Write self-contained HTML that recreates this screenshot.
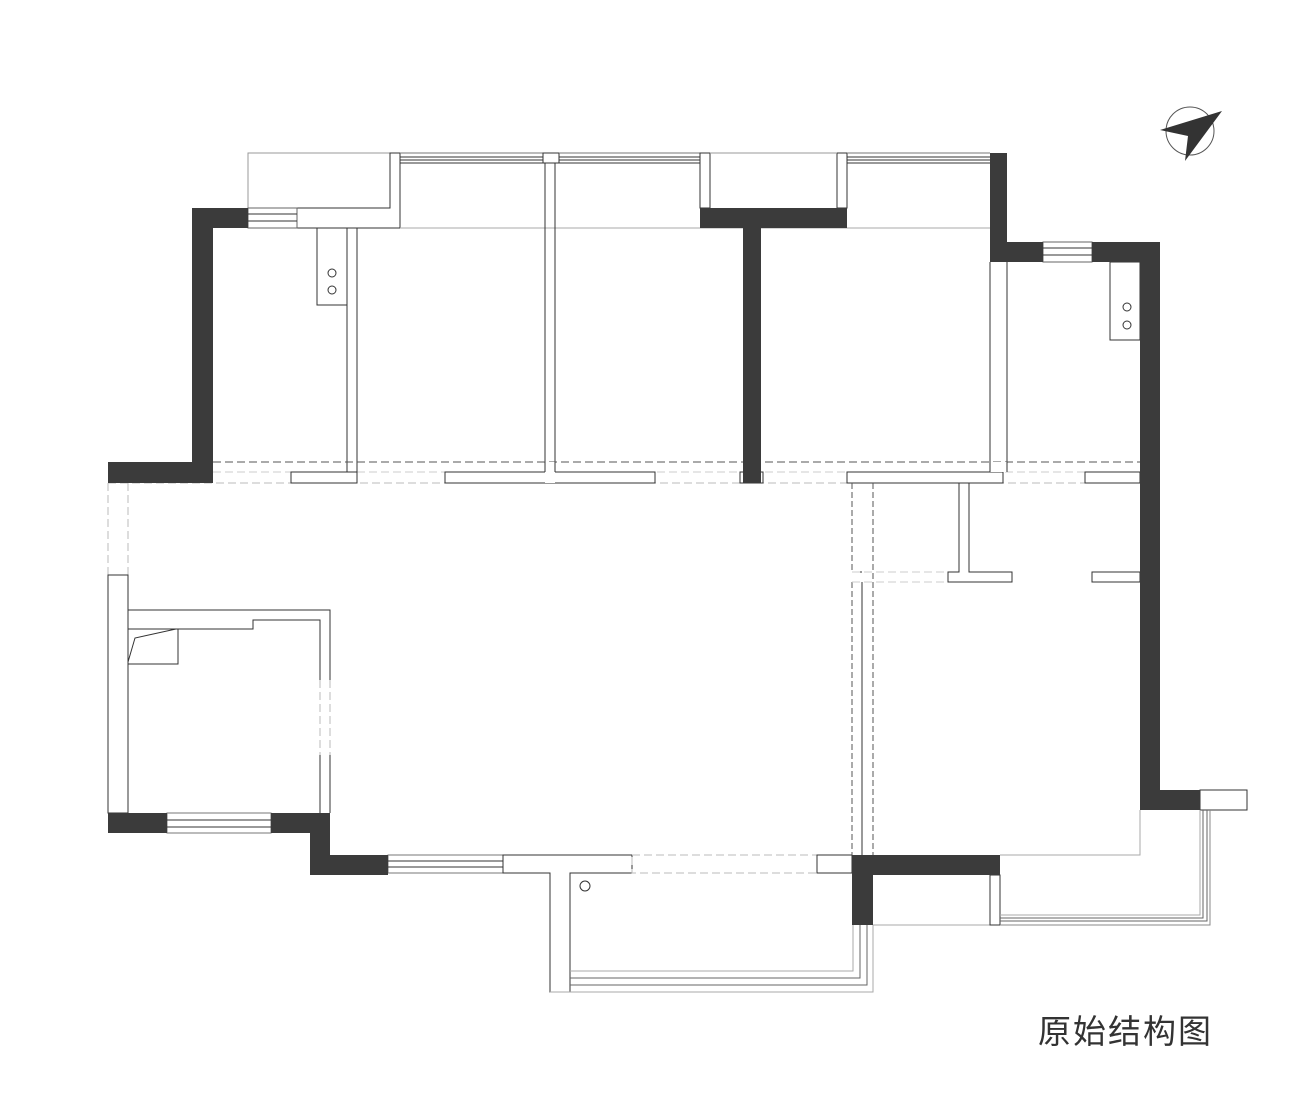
<!DOCTYPE html>
<html><head><meta charset="utf-8"><style>
html,body{margin:0;padding:0;background:#fff;}
svg{display:block;}
</style></head><body>
<svg width="1300" height="1110" viewBox="0 0 1300 1110" xmlns="http://www.w3.org/2000/svg">
<rect width="1300" height="1110" fill="#fff"/>
<g fill="none" stroke="#333" stroke-width="1">
<!-- top-left box -->
<rect x="248" y="153" width="142" height="55" stroke="#999"/>
<path d="M390 153 H400 V228 H297 V208 H390 Z" fill="#fff"/>
<!-- window TL -->
<rect x="248" y="208" width="49" height="20" stroke="#666"/>
<line x1="248" y1="214" x2="297" y2="214"/><line x1="248" y1="221" x2="297" y2="221"/>
<!-- top window 400-543 -->
<line x1="400" y1="153" x2="543" y2="153" stroke="#777"/>
<line x1="400" y1="157" x2="543" y2="157"/>
<line x1="400" y1="160" x2="543" y2="160"/>
<line x1="400" y1="163" x2="543" y2="163"/>
<line x1="400" y1="228" x2="990" y2="228" stroke="#aaa"/>
<!-- partition 543 -->
<rect x="543" y="153" width="16" height="10"/>
<path d="M545 163 V472 M555 163 V472"/>
<!-- window 559-700 -->
<line x1="559" y1="153" x2="700" y2="153" stroke="#777"/>
<line x1="559" y1="157" x2="700" y2="157"/>
<line x1="559" y1="160" x2="700" y2="160"/>
<line x1="559" y1="163" x2="700" y2="163"/>
<rect x="700" y="153" width="10" height="55"/>
<rect x="837" y="153" width="10" height="55"/>
<line x1="710" y1="153" x2="837" y2="153" stroke="#999"/>
<!-- window 847-990 -->
<line x1="847" y1="153" x2="990" y2="153" stroke="#777"/>
<line x1="847" y1="157" x2="990" y2="157"/>
<line x1="847" y1="160" x2="990" y2="160"/>
<line x1="847" y1="163" x2="990" y2="163"/>
<!-- shaft left -->
<rect x="317" y="228" width="30" height="77"/>
<circle cx="332" cy="273" r="4"/><circle cx="332" cy="290" r="4"/>
<!-- partition 347-357 -->
<path d="M347 228 V472 M357 228 V472"/>
<!-- partition 990-1007 -->
<path d="M990 262 V472 M1007 262 V472"/>
<!-- shaft right -->
<rect x="1110" y="262" width="30" height="78"/>
<circle cx="1127" cy="307" r="4"/><circle cx="1127" cy="325" r="4"/>
<!-- window right -->
<rect x="1043" y="242" width="49" height="20" stroke="#666"/>
<line x1="1043" y1="248" x2="1092" y2="248"/><line x1="1043" y1="255" x2="1092" y2="255"/>
<!-- dashed lines -->
<line x1="213" y1="462" x2="1140" y2="462" stroke="#555" stroke-dasharray="8,4"/>
<line x1="213" y1="472" x2="1140" y2="472" stroke="#ccc" stroke-dasharray="8,4"/>
<line x1="108" y1="483" x2="1140" y2="483" stroke="#bbb" stroke-dasharray="8,4"/>
<!-- stubs -->
<rect x="291" y="472" width="66" height="11" fill="#fff"/>
<rect x="445" y="472" width="210" height="11" fill="#fff"/>
<rect x="545" y="462" width="10" height="21" fill="#fff" stroke="none"/>
<path d="M545 462 V472 M555 462 V472"/>
<rect x="740" y="472" width="23" height="11" fill="#fff"/>
<rect x="847" y="472" width="156" height="11" fill="#fff"/>
<rect x="990" y="462" width="17" height="10" fill="#fff" stroke="none"/>
<path d="M990 462 V472 M1007 462 V472"/>
<rect x="1085" y="472" width="55" height="11" fill="#fff"/>
<!-- left side -->
<path d="M108 483 V575 M128 483 V575" stroke="#bbb" stroke-dasharray="8,4"/>
<rect x="108" y="575" width="20" height="238" fill="#fff"/>
<path d="M128 610 H330 V680 M330 755 V813 M128 629 H253 V620 H320 V680 M320 755 V813"/>
<path d="M330 680 V755 M320 680 V755" stroke="#bbb" stroke-dasharray="8,4"/>
<path d="M128 664 H178 V629"/>
<path d="M128 662 L135 638 L176 629"/>
<!-- bottom left window -->
<rect x="167" y="813" width="104" height="20" stroke="#777"/>
<line x1="167" y1="820" x2="271" y2="820"/><line x1="167" y1="827" x2="271" y2="827"/>
<!-- bottom window 388-503 -->
<rect x="388" y="855" width="115" height="18" stroke="#777"/>
<line x1="388" y1="861" x2="503" y2="861"/><line x1="388" y1="867" x2="503" y2="867"/>
<path d="M503 855 H632 V873 H570 V992 H550 V873 H503 Z" fill="#fff"/>
<circle cx="585" cy="886" r="5"/>
<rect x="632" y="855" width="185" height="18" stroke="#bbb" stroke-dasharray="8,4"/>
<rect x="817" y="855" width="35" height="18" fill="#fff"/>
<!-- balcony bottom -->
<path d="M570 971 H853 V925" stroke="#aaa"/>
<path d="M570 978 H860 V925" stroke="#666"/>
<path d="M570 985 H867 V925" stroke="#666"/>
<path d="M550 992 H873 V925" stroke="#aaa"/>
<!-- right lower -->
<path d="M852 483 V572 M852 582 V855 M873 483 V855" stroke="#555" stroke-dasharray="6,3"/>
<path d="M862 582 V855 M862 572 H852"/>
<path d="M852 572 H948 M852 582 H948" stroke="#ccc" stroke-dasharray="8,4"/>
<path d="M959 483 V572 H948 V582 H1012 V572 H969 V483"/>
<rect x="1092" y="572" width="48" height="10" fill="#fff"/>
<path d="M1140 810 V855 H1000 M873 925 H990" stroke="#aaa"/>
<rect x="990" y="875" width="10" height="50" fill="#fff"/>
<rect x="1200" y="790" width="47" height="20" fill="#fff"/>
<path d="M1000 915 H1200 V810" stroke="#aaa"/>
<path d="M1000 918 H1203 V810" stroke="#666"/>
<path d="M1000 921 H1207 V810" stroke="#666"/>
<path d="M1000 925 H1210 V810" stroke="#888"/>
</g>
<!-- dark walls -->
<g fill="#3b3b3b">
<path d="M192 208 H248 V228 H213 V483 H108 V462 H192 Z"/>
<path d="M700 208 H847 V228 H761 V483 H743 V228 H700 Z"/>
<path d="M990 153 H1007 V242 H1043 V262 H990 Z"/>
<path d="M1092 242 H1160 V790 H1200 V810 H1140 V262 H1092 Z"/>
<path d="M852 855 H1000 V875 H873 V925 H852 Z"/>
<path d="M108 813 H167 V833 H108 Z"/>
<path d="M271 813 H330 V855 H388 V875 H310 V833 H271 Z"/>
</g>
<!-- compass -->
<circle cx="1190" cy="131" r="24" fill="none" stroke="#555" stroke-width="1"/>
<polygon points="1222,111 1160,130 1188,136 1185,161" fill="#333"/>
<text x="1038" y="1043" font-family="'Liberation Sans','Noto Sans CJK SC',sans-serif" font-size="33" fill="#333" letter-spacing="2">原始结构图</text>
</svg>
</body></html>
